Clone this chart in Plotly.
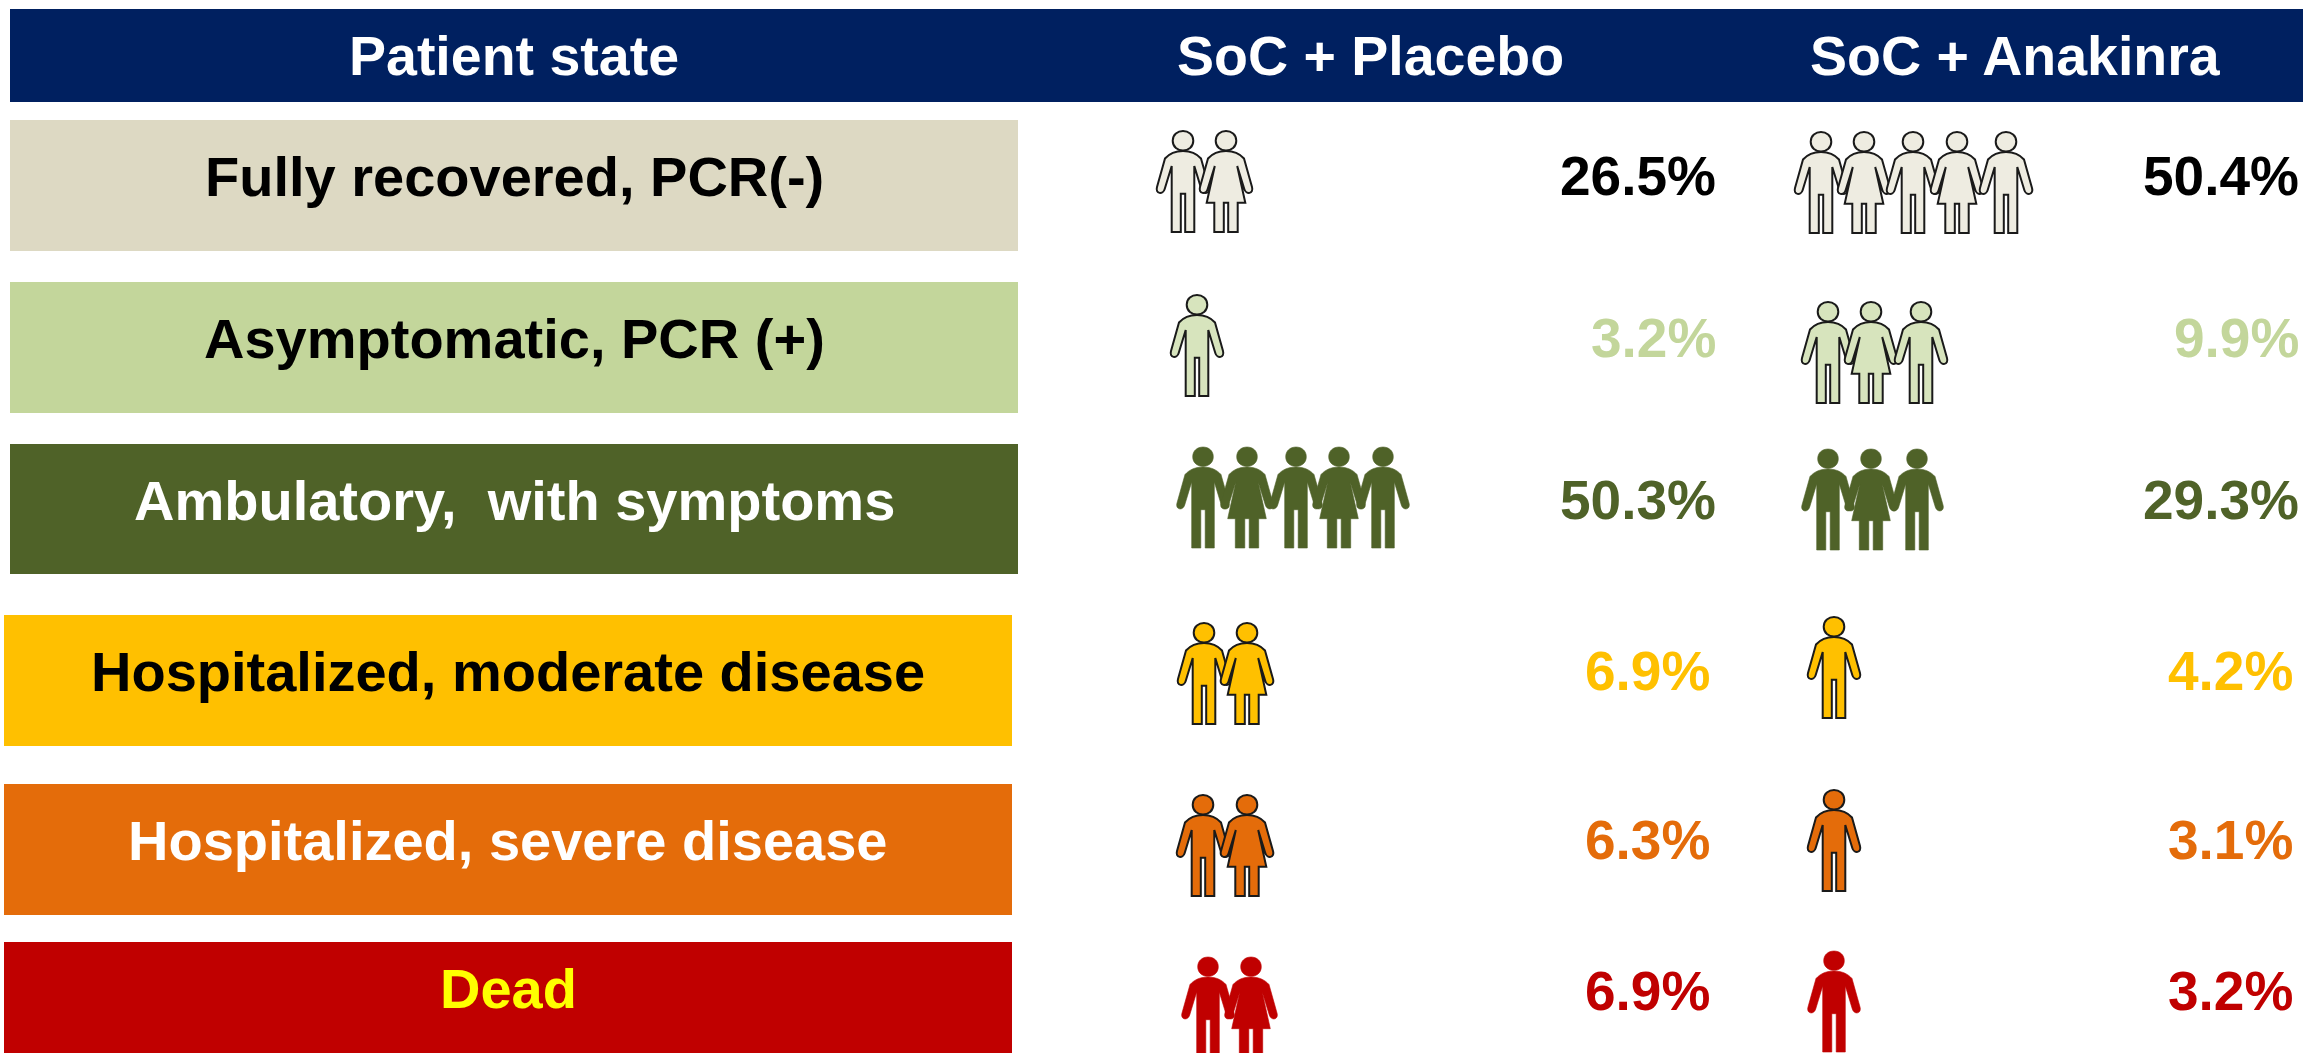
import plotly.graph_objects as go

W, H = 2303, 1053

# ---- data ----
column_titles = ["Patient state", "SoC + Placebo", "SoC + Anakinra"]
patient_states = ["Fully recovered, PCR(-)", "Asymptomatic, PCR (+)", "Ambulatory,  with symptoms",
                  "Hospitalized, moderate disease", "Hospitalized, severe disease", "Dead"]
placebo_pct = [26.5, 3.2, 50.3, 6.9, 6.3, 6.9]
anakinra_pct = [50.4, 9.9, 29.3, 4.2, 3.1, 3.2]
placebo_people = [2, 1, 5, 2, 2, 2]
anakinra_people = [5, 3, 3, 1, 1, 1]

# ---- styles and layout ----
band_colors = ["#DDD9C3", "#C3D69B", "#4F6228", "#FFC000", "#E46C0A", "#C00000"]
label_colors = ["#000000", "#000000", "#FFFFFF", "#000000", "#FFFFFF", "#FFFF00"]
pct_colors = ["#000000", "#C3D69B", "#4F6228", "#FFC000", "#E46C0A", "#C00000"]
person_fill = ["#EEECE1", "#D7E4BD", "#4F6228", "#FFC000", "#E46C0A", "#C00000"]
person_line = ["#1a1a1a", "#1a1a1a", None, "#1a1a1a", "#1a1a1a", None]

band_top = [120, 282, 444, 615, 784, 942]
band_bottom = [251, 413, 574, 746, 915, 1053]
band_left = [10, 10, 10, 4, 4, 4]
band_right = [1018, 1018, 1018, 1012, 1012, 1012]
label_y = [176, 338, 500, 671, 840, 988]
pct_right_a = [1717.5, 1717.5, 1717.5, 1711.5, 1711.5, 1711.5]
pct_right_b = [2301, 2301, 2301, 2295, 2295, 2295]
pct_y = [176, 338, 500, 671, 840, 991]

# x centre of each figure, figure top y
people_x_a = [[1183, 1226], [1197], [1203, 1247, 1296, 1339, 1383], [1204, 1247], [1203, 1247], [1208, 1251]]
people_x_b = [[1821, 1864, 1913, 1957, 2006], [1828, 1871, 1921], [1828, 1871, 1917], [1834], [1834], [1834]]
people_top_a = [131, 295, 447, 623, 795, 957]
people_top_b = [132, 302, 449, 617, 790, 951]


def head(cx, top):
    rx, ry = 10.3, 9.7
    cy = top + 9.7
    return (f"M{cx-rx},{cy} C{cx-rx},{cy-ry*1.33} {cx+rx},{cy-ry*1.33} {cx+rx},{cy} "
            f"C{cx+rx},{cy+ry*1.33} {cx-rx},{cy+ry*1.33} {cx-rx},{cy} Z")


def outline(points, cx, top):
    out = []
    for cmd, *xy in points:
        vals = [(xy[i] + cx if i % 2 == 0 else xy[i] + top) for i in range(len(xy))]
        out.append(cmd + " ".join(f"{v:.1f}" for v in vals))
    return " ".join(out) + " Z"


MAN = [("M", 0, 20), ("C", -8, 20, -14, 23, -18, 27.5), ("L", -26, 56), ("C", -28, 63, -20, 64, -18.3, 58),
       ("L", -11.3, 35), ("L", -11.3, 101), ("L", -2.2, 101), ("L", -2.2, 62.7), ("L", 2.2, 62.7), ("L", 2.2, 101),
       ("L", 11.3, 101), ("L", 11.3, 35), ("L", 18.3, 58), ("C", 20, 64, 28, 63, 26, 56), ("L", 18, 27.5),
       ("C", 14, 23, 8, 20, 0, 20)]
WOMAN = [("M", 0, 20), ("C", -8, 20, -14, 23, -18, 27.5), ("L", -26, 56), ("C", -28, 63, -20, 64, -18.3, 58),
         ("L", -11.2, 35), ("L", -19.3, 71.7), ("L", -11.7, 71.7), ("L", -11.7, 101), ("L", -2.2, 101), ("L", -2.2, 71.7),
         ("L", 2.2, 71.7), ("L", 2.2, 101), ("L", 11.7, 101), ("L", 11.7, 71.7), ("L", 19.3, 71.7), ("L", 11.2, 35),
         ("L", 18.3, 58), ("C", 20, 64, 28, 63, 26, 56), ("L", 18, 27.5), ("C", 14, 23, 8, 20, 0, 20)]

shapes, annotations = [], []
FONT = "Liberation Sans"


def text(x, y, s, color, anchor="center", size=56):
    annotations.append(dict(x=x, y=y, xref="x", yref="y", text=f"<b>{s}</b>", showarrow=False,
                            xanchor=anchor, yanchor="middle",
                            font=dict(family=FONT, size=size, color=color)))


shapes.append(dict(type="rect", x0=10, x1=W, y0=9, y1=102, fillcolor="#002060", line_width=0, layer="below"))
text(514, 56, column_titles[0], "#FFFFFF", size=55.5)
text(1370, 56, column_titles[1], "#FFFFFF", size=55.5)
text(2015, 56, column_titles[2], "#FFFFFF", size=55.5)


def people(xs, top, i):
    for k, cx in enumerate(xs):
        body = MAN if k % 2 == 0 else WOMAN
        line = dict(color=person_line[i], width=2) if person_line[i] else dict(color=person_fill[i], width=0.6)
        for p in (head(cx, top), outline(body, cx, top)):
            shapes.append(dict(type="path", path=p, fillcolor=person_fill[i], line=line, layer="above"))


for i, state in enumerate(patient_states):
    shapes.append(dict(type="rect", x0=band_left[i], x1=band_right[i], y0=band_top[i], y1=band_bottom[i],
                       fillcolor=band_colors[i], line_width=0, layer="below"))
    text((band_left[i] + band_right[i]) / 2, label_y[i], state, label_colors[i])
    assert len(people_x_a[i]) == placebo_people[i] and len(people_x_b[i]) == anakinra_people[i]
    people(people_x_a[i], people_top_a[i], i)
    people(people_x_b[i], people_top_b[i], i)
    text(pct_right_a[i], pct_y[i], f"{placebo_pct[i]}%", pct_colors[i], "right", 55)
    text(pct_right_b[i], pct_y[i], f"{anakinra_pct[i]}%", pct_colors[i], "right", 55)

fig = go.Figure()
fig.update_layout(
    width=W, height=H, margin=dict(l=0, r=0, t=0, b=0), paper_bgcolor="white", plot_bgcolor="white",
    xaxis=dict(range=[0, W], visible=False, fixedrange=True),
    yaxis=dict(range=[H, 0], visible=False, fixedrange=True),
    shapes=shapes, annotations=annotations, showlegend=False,
)
fig.write_html("out.html", config={"displayModeBar": False},
               post_script="document.body.style.margin='0';document.body.style.overflow='hidden';")
